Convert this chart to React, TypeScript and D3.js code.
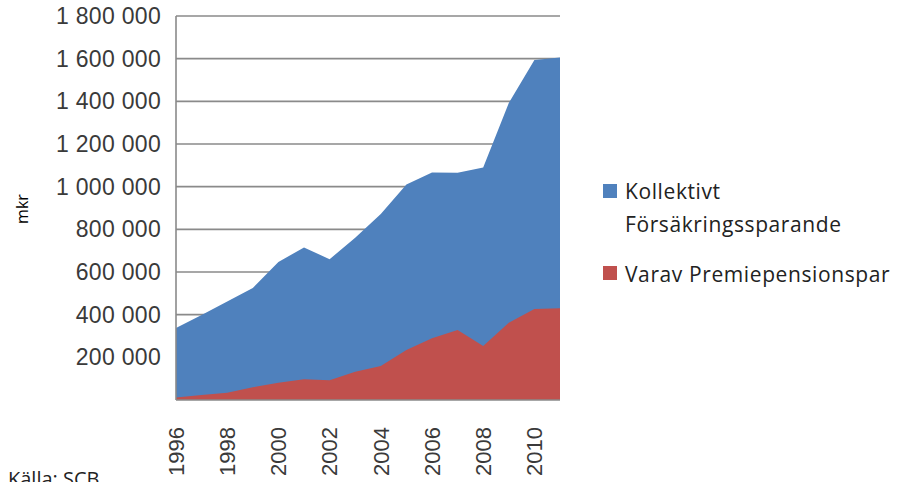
import React from "react";
import * as d3 from "d3";

const years = [1996, 1997, 1998, 1999, 2000, 2001, 2002, 2003, 2004, 2005, 2006, 2007, 2008, 2009, 2010, 2011];
const kollektivt = [337000, 398000, 462000, 525000, 647000, 715000, 660000, 760000, 872000, 1010000, 1066000, 1065000, 1090000, 1392000, 1594000, 1606000];
const premiepension = [12000, 23000, 34000, 60000, 81000, 97000, 93000, 133000, 159000, 234000, 289000, 328000, 253000, 362000, 427000, 430000];
const yTicks = [200000, 400000, 600000, 800000, 1000000, 1200000, 1400000, 1600000, 1800000];
const xTickYears = [1996, 1998, 2000, 2002, 2004, 2006, 2008, 2010];
const seriesNames = ["Kollektivt", "Försäkringssparande", "Varav Premiepensionspar"];

const W = 900;
const H = 482;
const left = 176;
const right = 560;
const top = 16;
const bottom = 400;

const fmt = (v: number) => d3.format(",")(v).replace(/,/g, " ");

export default function App() {
  const x = d3.scaleLinear().domain([1996, 2011]).range([left, right]);
  const y = d3.scaleLinear().domain([0, 1800000]).range([bottom, top]);
  const area = d3
    .area<number>()
    .x((_, i) => x(years[i]))
    .y0(y(0))
    .y1((d) => y(d));

  const tickFont = "'Liberation Sans', Arial, sans-serif";
  const legFont = "'Open Sans', sans-serif";

  return (
    <svg width={W} height={H} style={{ position: "absolute", left: 0, top: 0 }}>
      <rect width={W} height={H} fill="#fff" />
      {yTicks.map((t) => (
        <line key={t} x1={left} x2={right} y1={y(t)} y2={y(t)} stroke="#8a8a8a" strokeWidth={1.6} />
      ))}
      <path d={area(kollektivt) || ""} fill="#4F81BD" />
      <path d={area(premiepension) || ""} fill="#C0504D" />
      <line x1={left} x2={left} y1={top} y2={bottom} stroke="#8a8a8a" strokeWidth={1.6} />
      <line x1={left} x2={right} y1={bottom} y2={bottom} stroke="#8a8a8a" strokeWidth={1.6} />
      {yTicks.map((t) => (
        <text
          key={t}
          x={161}
          y={y(t)}
          dy="0.35em"
          textAnchor="end"
          fontFamily={tickFont}
          fontSize={23}
          letterSpacing={0.3}
          fill="#3a3a3a"
        >
          {fmt(t)}
        </text>
      ))}
      {xTickYears.map((yr) => (
        <text
          key={yr}
          transform={`translate(${x(yr)},427) rotate(-90)`}
          dy="0.35em"
          textAnchor="end"
          fontFamily={tickFont}
          fontSize={22}
          fill="#3a3a3a"
        >
          {yr}
        </text>
      ))}
      <text
        transform="translate(22,209) rotate(-90)"
        dy="0.35em"
        textAnchor="middle"
        fontFamily={legFont}
        fontSize={16}
        fill="#000"
      >
        mkr
      </text>
      <text x={8} y={486} fontFamily={legFont} fontSize={20} fill="#222">
        Källa: SCB
      </text>
      <rect x={603} y={184} width={14} height={14} fill="#4F81BD" />
      <text x={625} y={199} fontFamily={legFont} fontSize={21} letterSpacing={0.6} fill="#222">
        {seriesNames[0]}
      </text>
      <text x={625} y={232} fontFamily={legFont} fontSize={21} letterSpacing={0.6} fill="#222">
        {seriesNames[1]}
      </text>
      <rect x={603} y={266} width={14} height={14} fill="#C0504D" />
      <text x={625} y={282} fontFamily={legFont} fontSize={21} letterSpacing={0.6} fill="#222">
        {seriesNames[2]}
      </text>
    </svg>
  );
}
